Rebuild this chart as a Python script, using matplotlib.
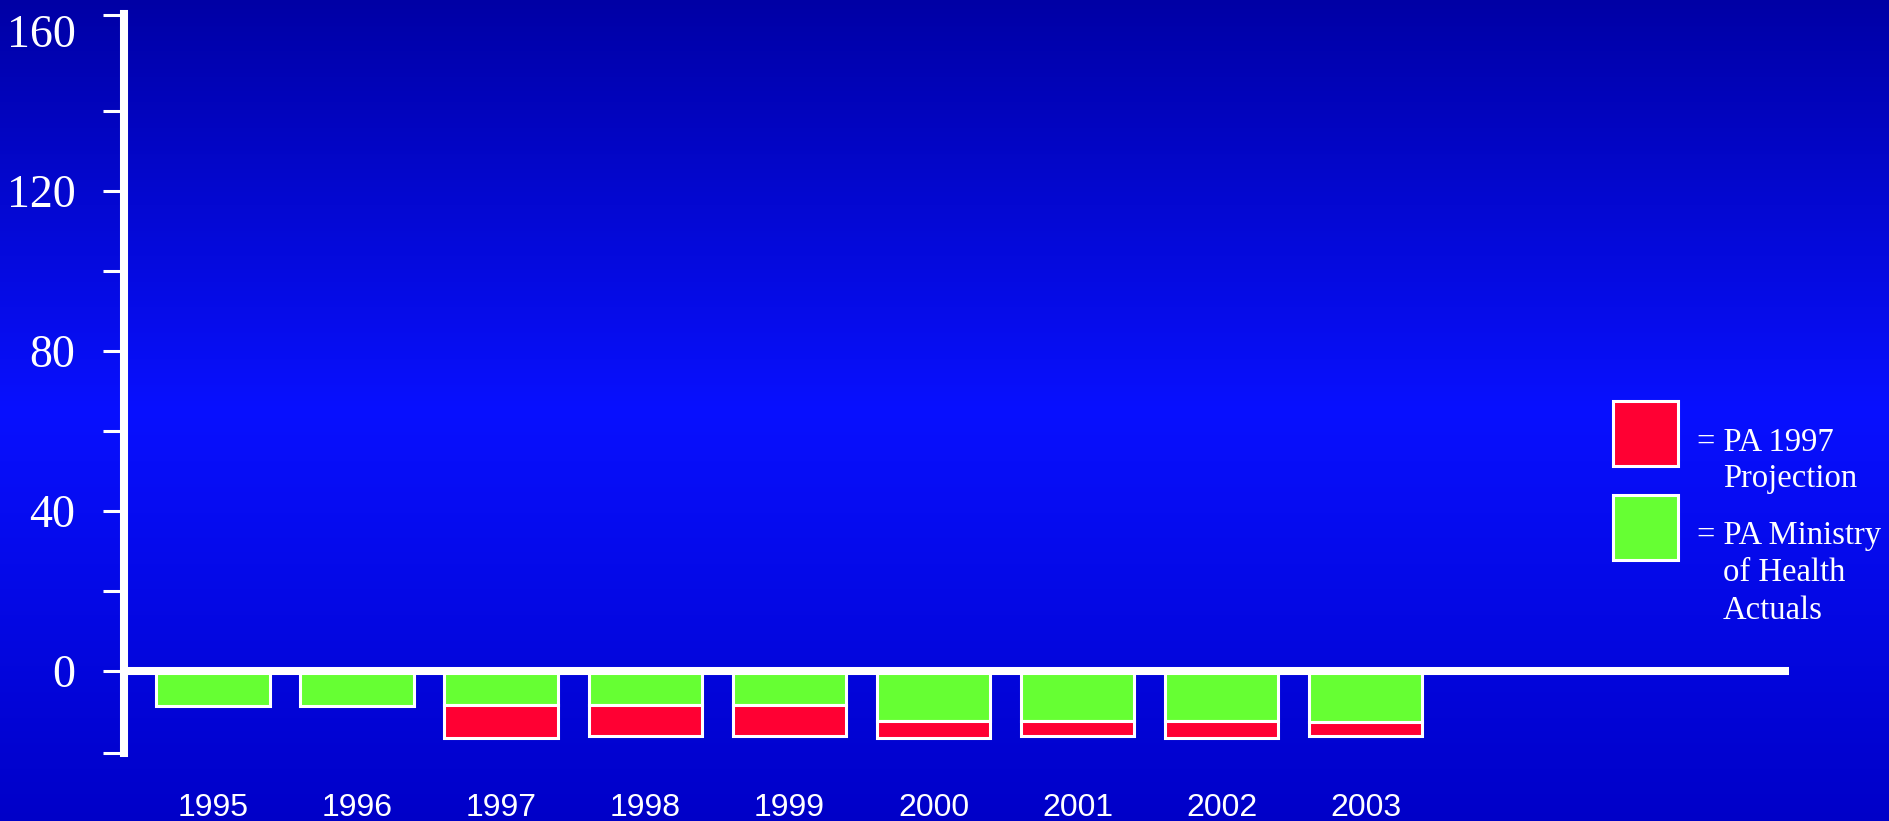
import numpy as np
import matplotlib
matplotlib.use("Agg")
import matplotlib.pyplot as plt
from matplotlib.patches import Rectangle

years = ["1995", "1996", "1997", "1998", "1999", "2000", "2001", "2002", "2003"]
actuals = [-8.8, -8.8, -8.4, -8.4, -8.4, -12.5, -12.6, -12.5, -12.7]
projection_extra = [0.0, 0.0, -8.3, -7.9, -7.9, -4.2, -3.7, -4.2, -3.6]
yticks_major = [0, 40, 80, 120, 160]
yticks_minor = [-20.5, 20, 60, 100, 140, 164]
legend_labels = [("= PA 1997", "Projection"), ("= PA Ministry", "of Health", "Actuals")]

W, H = 1890, 821
fig = plt.figure(figsize=(W / 100, H / 100), dpi=100)

# background gradient
bg = fig.add_axes([0, 0, 1, 1], zorder=-10)
t = np.linspace(0, 1, 400)
top = np.array([0, 0, 165]) / 255
mid = np.array([8, 16, 255]) / 255
bot = np.array([0, 0, 200]) / 255
cols = np.where(t[:, None] < 0.5,
                top + (mid - top) * (t[:, None] / 0.5),
                mid + (bot - mid) * ((t[:, None] - 0.5) / 0.5))
bg.imshow(cols[:, None, :], aspect="auto", extent=[0, 1, 0, 1])
bg.set_axis_off()

def fx(px):
    return px / W

def fy(py):
    return 1 - py / H

ax = fig.add_axes([fx(124), fy(753), (1789 - 124) / W, (753 - 14) / H])
ax.patch.set_alpha(0)

x = np.arange(len(years))
green = "#66FF33"
red = "#FF0033"
act = np.array(actuals)
proj = np.array(projection_extra)
ax.bar(x, act, width=0.79, color=green, edgecolor="white", linewidth=2.2, zorder=2)
mask = proj != 0
ax.bar(x[mask], proj[mask], bottom=act[mask], width=0.79, color=red,
       edgecolor="white", linewidth=2.2, zorder=2)

ax.axhline(0, color="white", linewidth=5.8, zorder=5, solid_capstyle="butt")

ax.set_xlim(-0.62, 10.94)
ax.set_ylim(-20.5, 164.2)

for s in ["top", "right", "bottom"]:
    ax.spines[s].set_visible(False)
ax.spines["left"].set_color("white")
ax.spines["left"].set_linewidth(5.8)
ax.spines["left"].set_zorder(6)

ax.set_yticks(yticks_major)
ax.set_yticklabels([str(v) for v in yticks_major], fontfamily="Liberation Serif",
                   fontsize=33, color="white")
ax.set_yticks(yticks_minor, minor=True)
ax.tick_params(axis="y", which="both", direction="out", length=15, width=2.2,
               color="white", pad=20)
ax.yaxis.get_major_ticks()[-1].tick1line.set_visible(False)

ax.set_xticks(x)
ax.set_xticklabels(years, fontfamily="Liberation Sans", fontsize=23, color="white")
ax.tick_params(axis="x", length=0, pad=29)

# legend
boxes = [(401, red), (495, green)]
for (ytop, c) in boxes:
    fig.patches.append(Rectangle((fx(1613), fy(ytop + 65)), 65 / W, 65 / H,
                                 transform=fig.transFigure, facecolor=c,
                                 edgecolor="white", linewidth=2.2))
baselines = [[451, 487], [544, 581, 619]]
for labels, bls in zip(legend_labels, baselines):
    for i, (txt, bl) in enumerate(zip(labels, bls)):
        xp = 1697 if i == 0 else 1723
        fig.text(fx(xp), fy(bl), txt, fontfamily="Liberation Serif", fontsize=23.5,
                 color="white", ha="left", va="baseline")

fig.savefig("out.png", dpi=100)
